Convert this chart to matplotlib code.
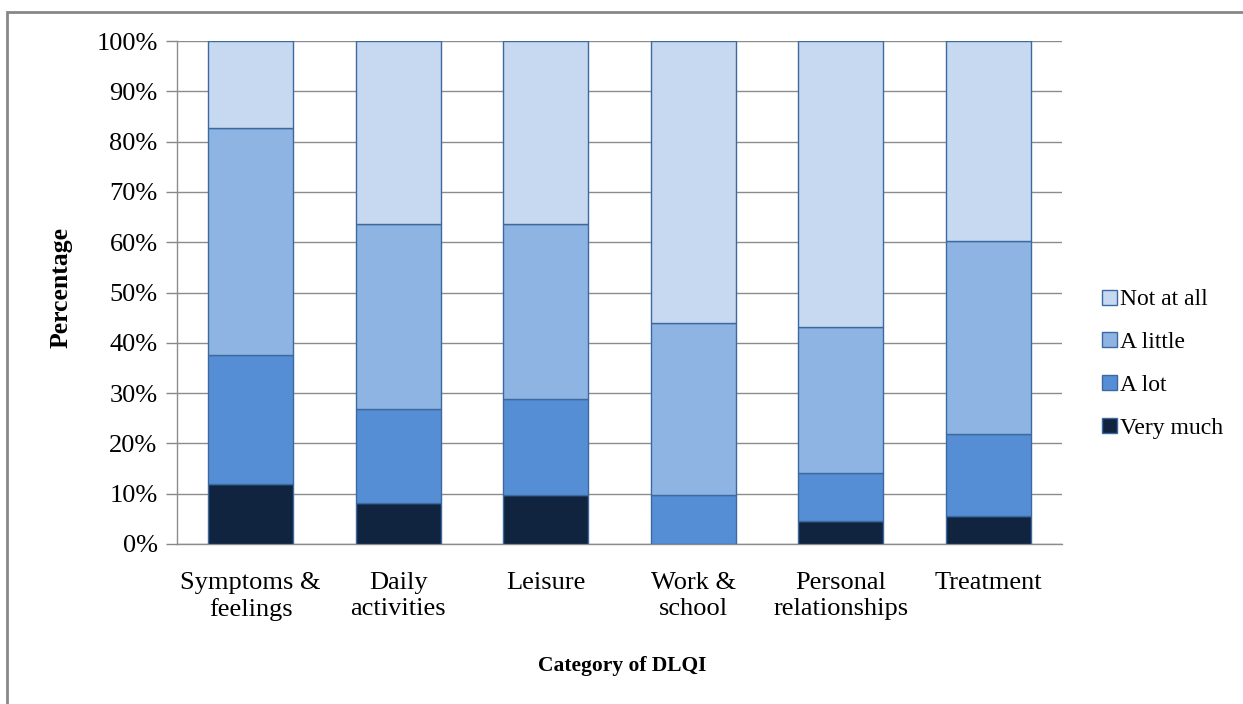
import numpy as np
import matplotlib.pyplot as plt
from matplotlib.patches import Rectangle

categories = ['Symptoms &\nfeelings', 'Daily\nactivities', 'Leisure', 'Work &\nschool',
              'Personal\nrelationships', 'Treatment']
very_much = [12.0, 8.2, 9.7, 0.0, 4.6, 5.6]
a_lot = [25.6, 18.6, 19.1, 9.7, 9.5, 16.3]
a_little = [45.1, 36.8, 34.8, 34.2, 29.0, 38.3]
not_at_all = [17.3, 36.4, 36.4, 56.1, 56.9, 39.8]

series = [('Very much', very_much, '#10243F'),
          ('A lot', a_lot, '#558ED5'),
          ('A little', a_little, '#8EB4E3'),
          ('Not at all', not_at_all, '#C6D9F1')]

plt.rcParams['font.family'] = ['Liberation Serif', 'DejaVu Serif']

fig = plt.figure(figsize=(12.43, 7.04), dpi=100)
ax = fig.add_axes([177 / 1243, 1 - 544 / 704, (1062 - 177) / 1243, (544 - 41) / 704])

x = np.arange(len(categories))
bottom = np.zeros(len(categories))
handles = []
for name, vals, col in series:
    b = ax.bar(x, vals, 0.576, bottom=bottom, color=col, edgecolor='#3C6A9E',
               linewidth=1.0, label=name, zorder=3)
    handles.append(b)
    bottom += np.array(vals)

ax.set_ylim(0, 100)
ax.set_xlim(-0.5, len(categories) - 0.5)
ax.set_yticks(np.arange(0, 101, 10))
ax.set_yticklabels([f'{v}%' for v in range(0, 101, 10)], fontsize=19)
ax.set_xticks(x)
ax.set_xticklabels(categories, fontsize=19, linespacing=1.25)
ax.tick_params(axis='x', length=0, pad=20)
ax.tick_params(axis='y', length=8, color='#888888', width=1, pad=6)
ax.yaxis.grid(True, color='#8c8c8c', linewidth=1, zorder=0)
ax.set_axisbelow(True)
for s in ['top', 'right']:
    ax.spines[s].set_visible(False)
for s in ['left', 'bottom']:
    ax.spines[s].set_color('#8c8c8c')
    ax.spines[s].set_linewidth(1)

ax.set_ylabel('Percentage', fontsize=18.5, fontweight='bold')
ax.yaxis.set_label_coords(-0.118, 0.51)
ax.set_xlabel('Category of DLQI', fontsize=15.5, fontweight='bold')
ax.xaxis.set_label_coords(0.503, -0.222)

leg = fig.legend(handles[::-1], [s[0] for s in series][::-1], loc='center left',
                 bbox_to_anchor=(1093 / 1243, 1 - 364 / 704), frameon=False,
                 fontsize=17, handlelength=0.6, handleheight=0.6, handletextpad=0.15,
                 labelspacing=0.92, borderaxespad=0)

fig.patches.append(Rectangle((7 / 1243, -0.01), 1.0, 1 - 12 / 704 + 0.01,
                             transform=fig.transFigure, fill=False,
                             edgecolor='#888888', linewidth=2))

fig.savefig('out.png', dpi=100)
